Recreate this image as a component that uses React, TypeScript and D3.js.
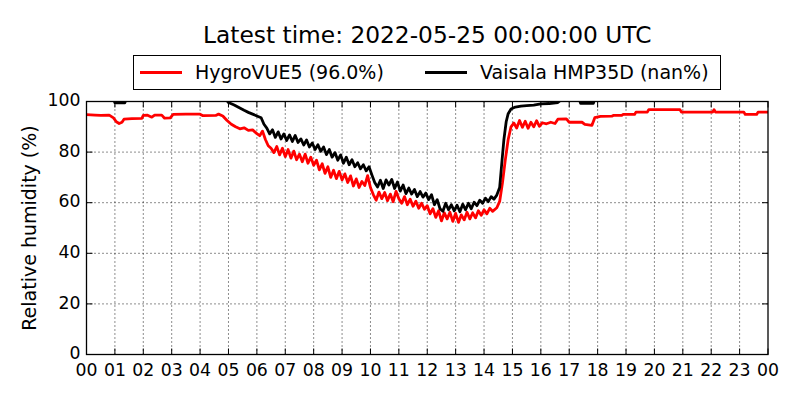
import * as d3 from 'd3'

// HygroVUE5 relative humidity (%), hours since 00:00 UTC
const redHours = [
  0, 0.3, 0.5, 0.8, 0.95, 1.05, 1.15, 1.25, 1.32, 1.6, 1.95, 2.0, 2.15, 2.3, 2.4, 2.65, 2.75, 2.95,
  3.05, 3.5, 4.0, 4.1, 4.55, 4.65, 4.8, 4.95, 5.1, 5.25, 5.4, 5.55, 5.7, 5.85, 6.0, 6.1, 6.2, 6.3,
  6.4, 6.5, 6.6, 6.7, 6.8, 6.9, 7.0, 7.1, 7.2, 7.3, 7.4, 7.5, 7.6, 7.7, 7.8, 7.9, 8.0, 8.1, 8.2,
  8.3, 8.4, 8.5, 8.6, 8.7, 8.8, 8.9, 9.0, 9.1, 9.2, 9.3, 9.4, 9.5, 9.6, 9.7, 9.8, 9.9, 10.0, 10.1,
  10.2, 10.3, 10.4, 10.5, 10.6, 10.7, 10.8, 10.9, 11.0, 11.1, 11.2, 11.3, 11.4, 11.5, 11.6, 11.7,
  11.8, 11.9, 12.0, 12.1, 12.2, 12.3, 12.4, 12.5, 12.6, 12.7, 12.8, 12.9, 13.0, 13.1, 13.2, 13.3,
  13.4, 13.5, 13.6, 13.7, 13.8, 13.9, 14.0, 14.1, 14.2, 14.3, 14.45, 14.55, 14.65, 14.75, 14.85,
  14.95, 15.05, 15.15, 15.25, 15.35, 15.45, 15.55, 15.65, 15.75, 15.85, 15.95, 16.05, 16.2, 16.35,
  16.5, 16.6, 16.9, 17.0, 17.45, 17.55, 17.8, 17.9, 18.1, 18.5, 18.55, 18.85, 18.9, 19.3, 19.35,
  19.75, 19.8, 20.9, 20.95, 22.05, 22.1, 22.15, 23.15, 23.2, 23.6, 23.65, 24.0,
]
const redValues = [
  94.8, 94.6, 94.5, 94.6, 93.5, 92.0, 91.3, 91.8, 93.0, 93.2, 93.3, 94.5, 94.6, 93.8, 94.6, 94.6, 93.4, 93.5,
  94.9, 95.0, 95.0, 94.4, 94.5, 95.0, 94.3, 92.5, 91.0, 90.0, 89.2, 89.6, 88.6, 88.8, 87.3, 86.5, 88.3, 85.0,
  82.5, 81.5, 79.8, 82.2, 78.9, 81.5, 78.2, 81.0, 77.6, 80.4, 77.0, 79.2, 76.2, 79.2, 75.6, 78.0, 74.8, 76.8, 73.0,
  75.4, 71.6, 74.2, 70.0, 72.8, 69.5, 72.4, 69.0, 71.4, 68.0, 70.6, 66.6, 69.4, 66.0, 68.4, 66.8, 70.7, 66.0, 63.2,
  61.0, 64.2, 61.6, 64.0, 60.8, 63.4, 60.4, 64.5, 61.6, 59.8, 62.4, 59.2, 61.4, 58.6, 60.6, 57.8,
  59.8, 57.4, 58.8, 55.6, 57.6, 54.2, 56.8, 52.8, 56.0, 53.6, 56.2, 52.6, 55.8, 52.2, 55.2, 53.2,
  56.2, 53.6, 56.0, 54.0, 56.8, 55.0, 57.2, 55.6, 57.8, 56.6, 58.0, 60.5, 68.0, 77.0, 85.0,
  90.0, 91.5, 89.5, 92.5, 89.8, 92.2, 89.4, 91.8, 90.0, 92.4, 90.2, 91.6, 91.2, 91.8,
  91.3, 93.0, 93.1, 91.8, 91.8, 91.0, 90.6, 93.6, 94.1, 94.2, 94.5, 94.5, 94.9, 94.9, 95.8,
  95.8, 96.8, 96.8, 95.8, 95.8, 96.8, 95.8, 95.8, 94.9, 94.9, 95.8, 95.8,
]

// Vaisala HMP35D relative humidity (%), values above 100 sit outside the frame
const blackHours = [
  0, 0.95, 1.0, 1.35, 1.4, 4.9, 5.0, 5.2, 5.4, 5.55, 5.7, 5.85, 6.0, 6.15, 6.25, 6.35, 6.45, 6.55,
  6.65, 6.75, 6.85, 6.95, 7.05, 7.15, 7.25, 7.35, 7.45, 7.55, 7.65, 7.75, 7.85, 7.95, 8.05, 8.15,
  8.25, 8.35, 8.45, 8.55, 8.65, 8.75, 8.85, 8.95, 9.05, 9.15, 9.25, 9.35, 9.45, 9.55, 9.65, 9.75,
  9.85, 9.95, 10.05, 10.15, 10.25, 10.35, 10.45, 10.55, 10.65, 10.75, 10.85, 10.95, 11.05, 11.15,
  11.25, 11.35, 11.45, 11.55, 11.65, 11.75, 11.85, 11.95, 12.05, 12.15, 12.25, 12.35, 12.45, 12.55,
  12.65, 12.75, 12.85, 12.95, 13.05, 13.15, 13.25, 13.35, 13.45, 13.55, 13.65, 13.75, 13.85, 13.95,
  14.05, 14.15, 14.25, 14.35, 14.45, 14.55, 14.62, 14.7, 14.78, 14.85, 14.95, 15.1, 15.3, 15.5,
  15.75, 16.0, 16.3, 16.6, 16.75, 17.35, 17.4, 17.85, 17.9, 24.0,
]
const blackValues = [
  101, 101, 99.5, 99.5, 101, 101, 99.6, 98.6, 97.4, 96.5, 95.7, 95.0, 94.3, 93.6, 91.0, 89.5, 87.2, 88.8,
  85.8, 88.0, 85.2, 87.2, 84.6, 86.8, 84.2, 86.6, 83.8, 85.2, 82.8, 84.8, 82.0, 83.6, 81.0, 82.9,
  80.3, 82.0, 79.0, 81.0, 78.0, 79.8, 76.8, 78.9, 75.6, 78.0, 75.0, 77.0, 74.2, 75.8, 73.4, 75.0,
  72.6, 74.2, 71.0, 68.0, 66.2, 68.9, 65.6, 69.0, 67.0, 69.2, 65.6, 68.2, 64.6, 67.0,
  63.6, 65.8, 63.4, 65.2, 62.4, 64.4, 62.2, 63.8, 61.2, 63.2, 59.2, 61.2, 57.6, 56.6,
  59.8, 57.2, 59.2, 56.8, 59.0, 56.4, 59.4, 57.2, 59.8, 57.6, 60.2, 58.8, 61.0, 59.8,
  61.8, 60.4, 62.4, 61.4, 63.0, 66.0, 75.0, 85.0, 92.0, 95.2, 97.0, 97.8, 98.2, 98.4,
  98.6, 99.1, 99.2, 99.6, 101, 101, 99.3, 99.3, 101, 101,
]

const hourTicks = d3.range(0, 25)
const humidityTicks = [0, 20, 40, 60, 80, 100]
const seriesNames = ['HygroVUE5 (96.0%)', 'Vaisala HMP35D (nan%)']
const seriesColors = ['#ff0000', '#000000']

const width = 800
const height = 400
const left = 86.5
const right = 768
const top = 101.5
const bottom = 354.5
const font = 'DejaVu Sans, sans-serif'

export default function App() {
  const x = d3.scaleLinear([0, 24], [left, right])
  const y = d3.scaleLinear([0, 100], [bottom, top])
  const line = d3.line<[number, number]>((d) => x(d[0]), (d) => y(d[1]))
  const red = line(redHours.map((h, i) => [h, redValues[i]])) ?? undefined
  const black = line(blackHours.map((h, i) => [h, blackValues[i]])) ?? undefined
  const tick = 6

  return (
    <svg
      width={width}
      height={height}
      style={{ position: 'absolute', left: 0, top: 0, background: '#fff' }}
      fontFamily={font}
    >
      <defs>
        <clipPath id="plot">
          <rect x={left} y={top} width={right - left} height={bottom - top} />
        </clipPath>
      </defs>
      <rect width={width} height={height} fill="#fff" />

      {/* grid */}
      <g stroke="#000" strokeWidth={0.9} strokeDasharray="1,3">
        {hourTicks.slice(1, -1).map((h) => (
          <line key={h} x1={x(h)} x2={x(h)} y1={top} y2={bottom} />
        ))}
        {humidityTicks.slice(1, -1).map((v) => (
          <line key={v} x1={left} x2={right} y1={y(v)} y2={y(v)} />
        ))}
      </g>

      {/* ticks, pointing inward on all sides */}
      <g stroke="#000" strokeWidth={1}>
        {hourTicks.map((h) => (
          <g key={h}>
            <line x1={x(h)} x2={x(h)} y1={bottom} y2={bottom - tick} />
            <line x1={x(h)} x2={x(h)} y1={top} y2={top + tick} />
          </g>
        ))}
        {humidityTicks.map((v) => (
          <g key={v}>
            <line x1={left} x2={left + tick} y1={y(v)} y2={y(v)} />
            <line x1={right} x2={right - tick} y1={y(v)} y2={y(v)} />
          </g>
        ))}
      </g>

      <g clipPath="url(#plot)" fill="none" strokeWidth={2.8} strokeLinejoin="round">
        <path d={red} stroke={seriesColors[0]} />
        <path d={black} stroke={seriesColors[1]} />
      </g>

      <rect
        x={left}
        y={top}
        width={right - left}
        height={bottom - top}
        fill="none"
        stroke="#000"
        strokeWidth={1.3}
      />

      {/* tick labels */}
      <g fontSize={17.3} fill="#000">
        {hourTicks.map((h) => (
          <text key={h} x={x(h)} y={bottom + 21} textAnchor="middle">
            {String(h % 24).padStart(2, '0')}
          </text>
        ))}
        {humidityTicks.map((v) => (
          <text key={v} x={left - 6} y={y(v) - 1.5} dy="0.36em" textAnchor="end">
            {v}
          </text>
        ))}
      </g>

      <text
        transform={`translate(36,${(top + bottom) / 2}) rotate(-90)`}
        textAnchor="middle"
        fontSize={19}
      >
        Relative humidity (%)
      </text>

      <text x={(left + right) / 2} y={43} textAnchor="middle" fontSize={23.3}>
        Latest time: 2022-05-25 00:00:00 UTC
      </text>

      {/* legend */}
      <rect x={133.5} y={55.5} width={587} height={34} fill="#fff" stroke="#000" strokeWidth={1} />
      {seriesNames.map((name, i) => {
        const lx = i === 0 ? 140 : 425
        return (
          <g key={name}>
            <line x1={lx} x2={lx + 42} y1={72.5} y2={72.5} stroke={seriesColors[i]} strokeWidth={2.8} />
            <text x={lx + 55} y={72.5} dy="0.36em" fontSize={19}>
              {name}
            </text>
          </g>
        )
      })}
    </svg>
  )
}
